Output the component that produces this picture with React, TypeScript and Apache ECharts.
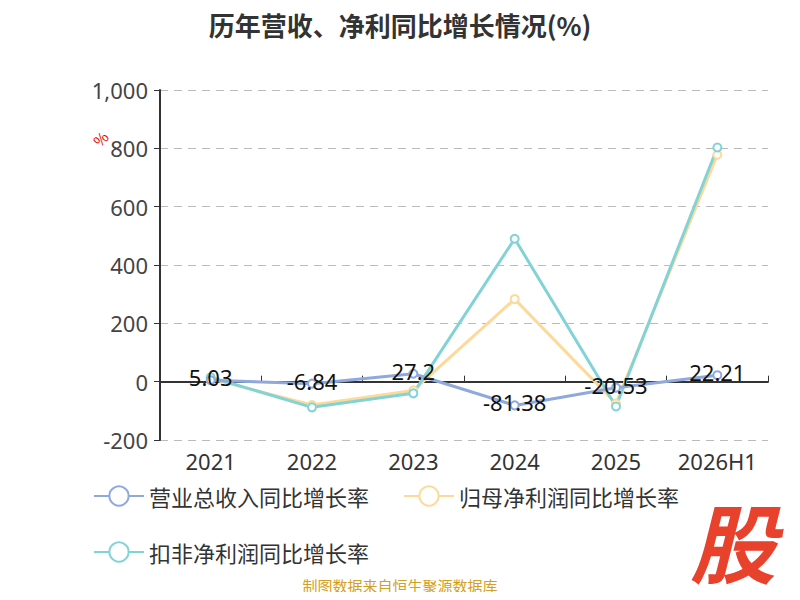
import React, { useEffect, useRef } from 'react';
import * as echarts from 'echarts';

const categories = ['2021', '2022', '2023', '2024', '2025', '2026H1'];
const revenueGrowth = [5.03, -6.84, 27.2, -81.38, -20.53, 22.21];
const netProfitGrowth = [10, -80, -30, 283, -75, 778];
const deductedGrowth = [15, -88, -40, 490, -85, 803];
const yTicks = { min: -200, max: 1000, interval: 200 };

const App: React.FC = () => {
  const chartRef = useRef<HTMLDivElement>(null);

  useEffect(() => {
    if (!chartRef.current) return;
    const chart = echarts.init(chartRef.current, undefined, { renderer: 'svg' });
    const font = '"Noto Sans CJK SC", "Noto Sans", sans-serif';
    const numFont = '"Noto Sans", sans-serif';

    const option: echarts.EChartsOption = {
      animation: false,
      textStyle: { fontFamily: font },
      title: {
        text: '历年营收、净利同比增长情况(%)',
        left: 'center',
        top: 6,
        textStyle: { fontSize: 26, fontWeight: 'bold', color: '#333', fontFamily: font }
      },
      grid: { left: 160, right: 32, top: 90, bottom: 160 },
      legend: {
        left: 88,
        top: 480,
        width: 700,
        itemWidth: 50,
        itemHeight: 24,
        itemGap: 34,
        textStyle: { fontSize: 22, color: '#333' },
        data: ['营业总收入同比增长率', '归母净利润同比增长率', '扣非净利润同比增长率']
      },
      xAxis: [
        {
          type: 'category',
          data: categories,
          position: 'bottom',
          axisLine: { show: false, onZero: false },
          axisTick: { show: false },
          axisLabel: { fontSize: 22, color: '#333', margin: 10, interval: 0, fontFamily: numFont }
        },
        {
          type: 'category',
          data: categories,
          axisLine: { show: true, onZero: true, lineStyle: { color: '#333', width: 2 } },
          axisTick: { show: true, length: 6, lineStyle: { color: '#333' } },
          axisLabel: { show: false }
        }
      ],
      yAxis: {
        type: 'value',
        min: yTicks.min,
        max: yTicks.max,
        interval: yTicks.interval,
        axisLine: { show: true, lineStyle: { color: '#333', width: 2 } },
        axisTick: { show: true, length: 6, lineStyle: { color: '#333' } },
        axisLabel: { fontSize: 22, color: '#444', margin: 12, fontFamily: numFont },
        splitLine: { lineStyle: { type: [8, 6], color: '#bbb' } }
      },
      series: [
        {
          name: '营业总收入同比增长率',
          type: 'line',
          data: revenueGrowth,
          symbol: 'emptyCircle',
          symbolSize: 8,
          lineStyle: { width: 3, color: '#8fa9dc' },
          itemStyle: { color: '#8fa9dc' },
          label: { show: true, position: 'inside', offset: [0, -3], fontSize: 22, color: '#111', fontFamily: numFont },
          z: 5
        },
        {
          name: '归母净利润同比增长率',
          type: 'line',
          data: netProfitGrowth,
          symbol: 'emptyCircle',
          symbolSize: 8,
          lineStyle: { width: 3, color: '#fdd99a' },
          itemStyle: { color: '#fdd99a' }
        },
        {
          name: '扣非净利润同比增长率',
          type: 'line',
          data: deductedGrowth,
          symbol: 'emptyCircle',
          symbolSize: 8,
          lineStyle: { width: 3, color: '#82d3d6' },
          itemStyle: { color: '#82d3d6' }
        }
      ],
      graphic: [
        {
          type: 'text',
          x: 90,
          y: 138,
          rotation: Math.PI / 4,
          style: { text: '%', fontSize: 15, fill: '#e00', fontFamily: font }
        },
        {
          type: 'text',
          left: 'center',
          top: 578,
          style: { text: '制图数据来自恒生聚源数据库', fontSize: 15, fill: '#d4a020', fontFamily: font }
        },
        {
          type: 'text',
          left: 690,
          top: 496,
          style: {
            text: '股',
            fontSize: 86,
            fontWeight: 'bold',
            fontStyle: 'italic',
            fill: '#e8412c',
            fontFamily: font
          }
        }
      ]
    };

    chart.setOption(option);
    return () => chart.dispose();
  }, []);

  return <div ref={chartRef} style={{ width: 800, height: 600, margin: -8 }} />;
};

export default App;
